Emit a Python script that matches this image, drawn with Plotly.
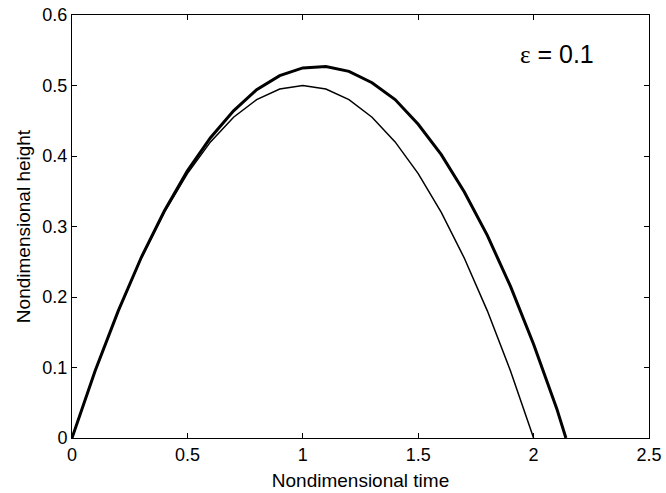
import plotly.graph_objects as go

# Nondimensional time samples
time = [0.0, 0.1, 0.2, 0.3, 0.4, 0.5, 0.6, 0.7, 0.8, 0.9, 1.0, 1.1, 1.2, 1.3,
        1.4, 1.5, 1.6, 1.7, 1.8, 1.9, 2.0]
# Unperturbed trajectory (epsilon = 0)
height_flat = [0.0, 0.095, 0.18, 0.255, 0.32, 0.375, 0.42, 0.455, 0.48, 0.495,
               0.5, 0.495, 0.48, 0.455, 0.42, 0.375, 0.32, 0.255, 0.18, 0.095, 0.0]

# Perturbed trajectory (epsilon = 0.1)
time_eps = [0.0, 0.1, 0.2, 0.3, 0.4, 0.5, 0.6, 0.7, 0.8, 0.9, 1.0, 1.1, 1.2,
            1.3, 1.4, 1.5, 1.6, 1.7, 1.8, 1.9, 2.0, 2.1, 2.14]
height_eps = [0.0, 0.095, 0.18, 0.256, 0.322, 0.379, 0.426, 0.464, 0.494,
              0.514, 0.525, 0.527, 0.520, 0.504, 0.480, 0.445, 0.402, 0.349,
              0.287, 0.215, 0.133, 0.042, 0.0]

x_ticks = [0, 0.5, 1, 1.5, 2, 2.5]
x_labels = ["0", "0.5", "1", "1.5", "2", "2.5"]
y_ticks = [0, 0.1, 0.2, 0.3, 0.4, 0.5, 0.6]
y_labels = ["0", "0.1", "0.2", "0.3", "0.4", "0.5", "0.6"]

font = "Liberation Sans, Arial, Helvetica, sans-serif"

fig = go.Figure()
fig.add_trace(go.Scatter(x=time, y=height_flat, mode="lines",
                         line=dict(color="black", width=1.5), showlegend=False))
fig.add_trace(go.Scatter(x=time_eps, y=height_eps, mode="lines",
                         line=dict(color="black", width=3), showlegend=False))

axis_common = dict(
    showgrid=False, zeroline=False, showline=True, linecolor="black",
    linewidth=1, mirror="ticks", ticks="inside", ticklen=5, tickcolor="black",
    tickfont=dict(family=font, size=18, color="black"), automargin=False,
)

fig.update_xaxes(range=[0, 2.5], tickvals=x_ticks, ticktext=x_labels,
                 title=dict(text="Nondimensional time", standoff=10,
                            font=dict(family=font, size=19, color="black")),
                 **axis_common)
fig.update_yaxes(range=[0, 0.6], tickvals=y_ticks, ticktext=y_labels,
                 title=dict(text="Nondimensional height", standoff=6,
                            font=dict(family=font, size=19, color="black")),
                 **axis_common)

fig.add_annotation(x=2.27, y=0.545, xref="x", yref="y", showarrow=False,
                   xanchor="right", yanchor="middle",
                   text='<span style="font-family:Liberation Serif, Times New Roman, serif">ε</span> = 0.1',
                   font=dict(family=font, size=25, color="black"))

fig.update_layout(
    width=666, height=493,
    margin=dict(l=72, r=17, t=15, b=55),
    paper_bgcolor="white", plot_bgcolor="white",
)

fig.write_html("out.html")
